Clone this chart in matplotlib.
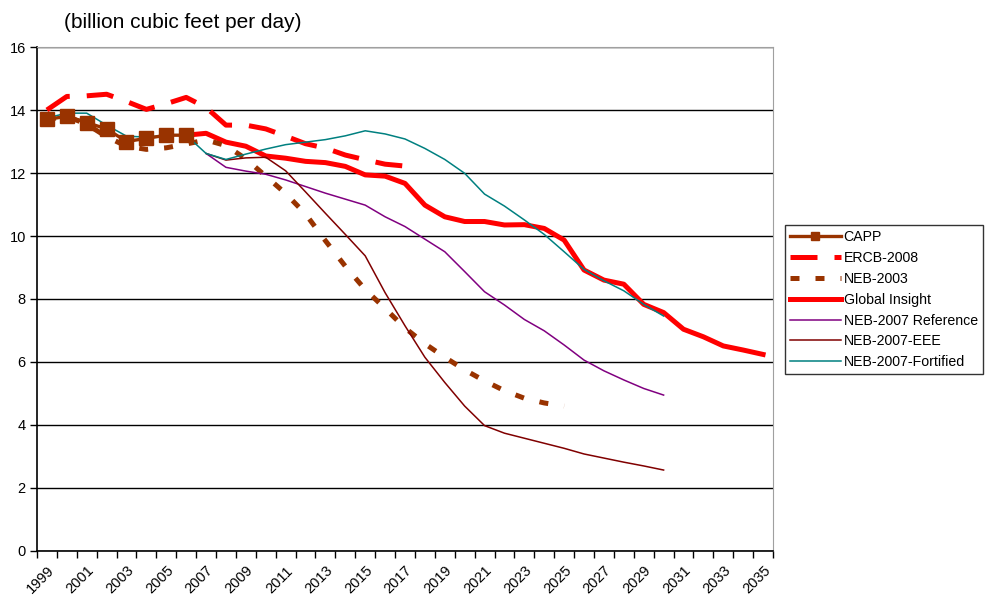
import numpy as np
import matplotlib
matplotlib.use("Agg")
import matplotlib.pyplot as plt
from matplotlib.ticker import MultipleLocator

plt.rcParams['font.family'] = ['Liberation Sans', 'DejaVu Sans']

# Forecast series (billion cubic feet per day)
capp_years = list(range(1999, 2007))
capp = [13.7, 13.8, 13.6, 13.4, 13.0, 13.1, 13.2, 13.2]

ercb_years = list(range(1999, 2018))
ercb = [14.0, 14.43, 14.45, 14.5, 14.27, 14.02, 14.2, 14.4, 14.08, 13.52,
        13.52, 13.4, 13.17, 12.93, 12.79, 12.57, 12.42, 12.28, 12.22]

neb2003_years = list(range(1999, 2026))
neb2003 = [13.7, 13.8, 13.55, 13.15, 12.85, 12.75, 12.8, 12.92, 13.05, 12.87,
           12.45, 11.9, 11.35, 10.7, 9.85, 9.04, 8.3, 7.7, 7.08, 6.58,
           6.15, 5.75, 5.4, 5.09, 4.85, 4.7, 4.6]

gi_years = list(range(2006, 2036))
global_insight = [13.2, 13.26, 12.98, 12.85, 12.54, 12.47, 12.37, 12.33, 12.21, 11.94,
                  11.9, 11.67, 10.98, 10.61, 10.46, 10.46, 10.35, 10.36, 10.24, 9.87,
                  8.92, 8.6, 8.47, 7.83, 7.57, 7.04, 6.8, 6.51, 6.38, 6.24]

ref_years = list(range(2007, 2031))
neb2007_ref = [12.62, 12.18, 12.06, 11.96, 11.78, 11.57, 11.36, 11.17, 10.98, 10.61,
               10.3, 9.9, 9.5, 8.87, 8.23, 7.81, 7.35, 6.99, 6.54, 6.06,
               5.72, 5.43, 5.16, 4.95]

eee_years = list(range(2007, 2031))
neb2007_eee = [12.62, 12.41, 12.48, 12.5, 12.07, 11.4, 10.72, 10.05, 9.37, 8.2,
               7.15, 6.15, 5.35, 4.6, 3.98, 3.74, 3.58, 3.42, 3.26, 3.08,
               2.95, 2.82, 2.7, 2.57]

fort_years = list(range(1999, 2031))
neb2007_fort = [13.75, 13.9, 13.9, 13.52, 13.17, 13.14, 13.2, 13.2, 12.62, 12.43,
                12.6, 12.76, 12.9, 12.98, 13.06, 13.18, 13.34, 13.24, 13.08, 12.78,
                12.43, 11.99, 11.33, 10.95, 10.51, 10.05, 9.5, 8.94, 8.58, 8.26,
                7.83, 7.46]

tick_years = list(range(1999, 2036, 2))

fig = plt.figure(figsize=(9.86, 5.98), dpi=100)
ax = fig.add_axes([0.0375, 0.0786, 0.7465, 0.8428])

ax.plot(capp_years, capp, color='#993300', lw=2.4, marker='s', ms=9.5,
        label='CAPP', zorder=10)
ax.plot(ercb_years, ercb, color='#FF0000', lw=3.6, dashes=(5.4, 3.4),
        dash_capstyle='butt', label='ERCB-2008', zorder=4)
ax.plot(neb2003_years, neb2003, color='#993300', lw=3.6, dashes=(1.8, 3.2),
        dash_capstyle='butt', label='NEB-2003', zorder=5)
ax.plot(gi_years, global_insight, color='#FF0000', lw=3.6,
        label='Global Insight', zorder=3)
ax.plot(ref_years, neb2007_ref, color='#800080', lw=1.1,
        label='NEB-2007 Reference', zorder=6)
ax.plot(eee_years, neb2007_eee, color='#800000', lw=1.1,
        label='NEB-2007-EEE', zorder=7)
ax.plot(fort_years, neb2007_fort, color='#008080', lw=1.1,
        label='NEB-2007-Fortified', zorder=8)

ax.set_xlim(1998.5, 2035.5)
ax.set_ylim(0, 16)
ax.yaxis.set_major_locator(MultipleLocator(2))
ax.grid(axis='y', color='black', lw=1.0)
ax.set_axisbelow(True)

ax.set_xticks(tick_years)
ax.set_xticklabels([str(y) for y in tick_years], rotation=45, ha='right',
                   rotation_mode='anchor', fontsize=10.5)
ax.set_xticks(np.arange(1998.5, 2036, 1), minor=True)
ax.tick_params(axis='x', which='major', length=0, pad=9)
ax.tick_params(axis='x', which='minor', length=5, width=1, color='black')
ax.tick_params(axis='y', length=5, width=1, color='black', labelsize=10.5, pad=3)

for side in ['top', 'right']:
    ax.spines[side].set_color('#A0A0A0')
for side in ['left', 'bottom']:
    ax.spines[side].set_color('black')
    ax.spines[side].set_linewidth(1.2)

fig.text(0.065, 0.978, '(billion cubic feet per day)', fontsize=15, va='top')

leg = ax.legend(loc='upper left', bbox_to_anchor=(0.796, 0.623),
                bbox_transform=fig.transFigure, borderaxespad=0,
                fontsize=10.2, frameon=True, fancybox=False, edgecolor='black',
                handlelength=3.6, handletextpad=0.2, labelspacing=0.48,
                borderpad=0.35, markerscale=0.6)
leg.get_frame().set_linewidth(1.0)

fig.savefig('out.png', dpi=100)
